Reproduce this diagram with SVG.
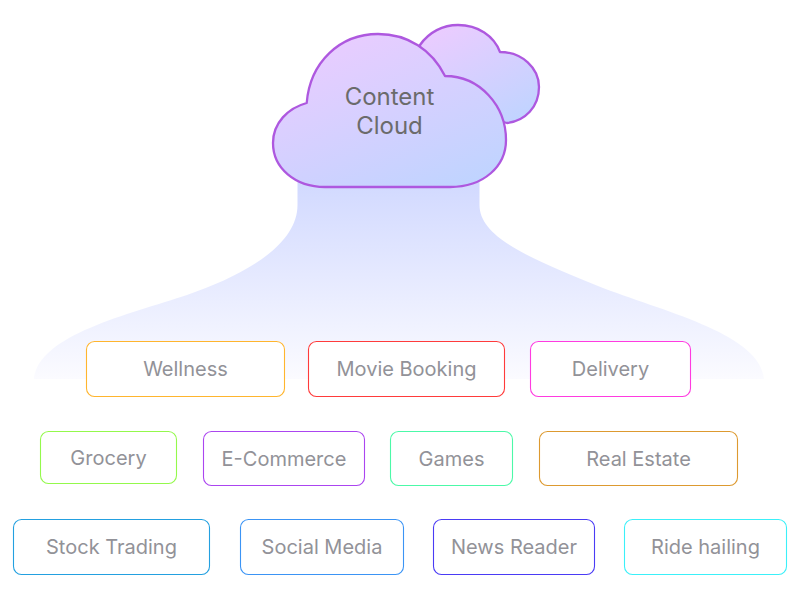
<svg xmlns="http://www.w3.org/2000/svg" width="800" height="600" viewBox="0 0 800 600">
<style>
text{font-family:Inter,"Liberation Sans",sans-serif;text-anchor:middle;font-weight:400}
.n rect{fill:#fff;stroke-width:1.1}
.n text{font-size:20px;fill:#929298}
.c{stroke:#ae58df;stroke-width:2.3;fill:url(#cg);stroke-linejoin:round}
</style>
<defs>
<linearGradient id="cg" x1="0.2" y1="0" x2="0.85" y2="1"><stop offset="0" stop-color="#ebccff"/><stop offset="1" stop-color="#bfd4ff"/></linearGradient>
<linearGradient id="fg" x1="0" y1="0" x2="0" y2="1"><stop offset="0" stop-color="#cfd7ff"/><stop offset="1" stop-color="#fbfbff"/></linearGradient>
</defs>
<g id="connectors"><path d="M297.500 170V205C297.500 245 245 275 187 295C130 314 38 335 34 379H764C760 335 672 314 603 288C540 262 479.500 240 479.500 205V170Z" fill="url(#fg)"/></g>
<g id="cloud-back"><path class="c" d="M420 45C429 32 443 25 458 25C478 25 494 36 500 52C522 52 539 68 539 87C539 107 525 121 507 123L420 100Z"/></g>
<g id="cloud-main"><path class="c" d="M306.700 103C310 62 340 34 378 34C408 34 432 50 445 76C480 76 506 106 506 140C506 166 484 187 450 187H325C295 187 273 168 273 143C273 123 288 108 306.700 103Z"/>
<text x="389.500" y="105" font-size="24" fill="#6b6b6b">Content</text><text x="389.500" y="134" font-size="24" fill="#6b6b6b">Cloud</text></g>
<g id="wellness" class="n"><rect x="86.500" y="341.500" width="198" height="55" rx="8" stroke="#ffb52e"/><text x="185.500" y="376">Wellness</text></g>
<g id="movie-booking" class="n"><rect x="308.500" y="341.500" width="196" height="55" rx="8" stroke="#ff3b3b"/><text x="406.500" y="376">Movie Booking</text></g>
<g id="delivery" class="n"><rect x="530.500" y="341.500" width="160" height="55" rx="8" stroke="#ff3be0"/><text x="610.500" y="376">Delivery</text></g>
<g id="grocery" class="n"><rect x="40.500" y="431.500" width="136" height="52" rx="8" stroke="#94f94c"/><text x="108.500" y="465">Grocery</text></g>
<g id="e-commerce" class="n"><rect x="203.500" y="431.500" width="161" height="54" rx="8" stroke="#ab45f0"/><text x="284" y="465.500">E-Commerce</text></g>
<g id="games" class="n"><rect x="390.500" y="431.500" width="122" height="54" rx="8" stroke="#4cf9a8"/><text x="451.500" y="465.500">Games</text></g>
<g id="real-estate" class="n"><rect x="539.500" y="431.500" width="198" height="54" rx="8" stroke="#dd9a30"/><text x="638.500" y="465.500">Real Estate</text></g>
<g id="stock-trading" class="n"><rect x="13.500" y="519.500" width="196" height="55" rx="8" stroke="#23a0e0"/><text x="111.500" y="554">Stock Trading</text></g>
<g id="social-media" class="n"><rect x="240.500" y="519.500" width="163" height="55" rx="8" stroke="#3b94f5"/><text x="322" y="554">Social Media</text></g>
<g id="news-reader" class="n"><rect x="433.500" y="519.500" width="161" height="55" rx="8" stroke="#4a3bf5"/><text x="514" y="554">News Reader</text></g>
<g id="ride-hailing" class="n"><rect x="624.500" y="519.500" width="162" height="55" rx="8" stroke="#3bf0f9"/><text x="705.500" y="554">Ride hailing</text></g>
</svg>
